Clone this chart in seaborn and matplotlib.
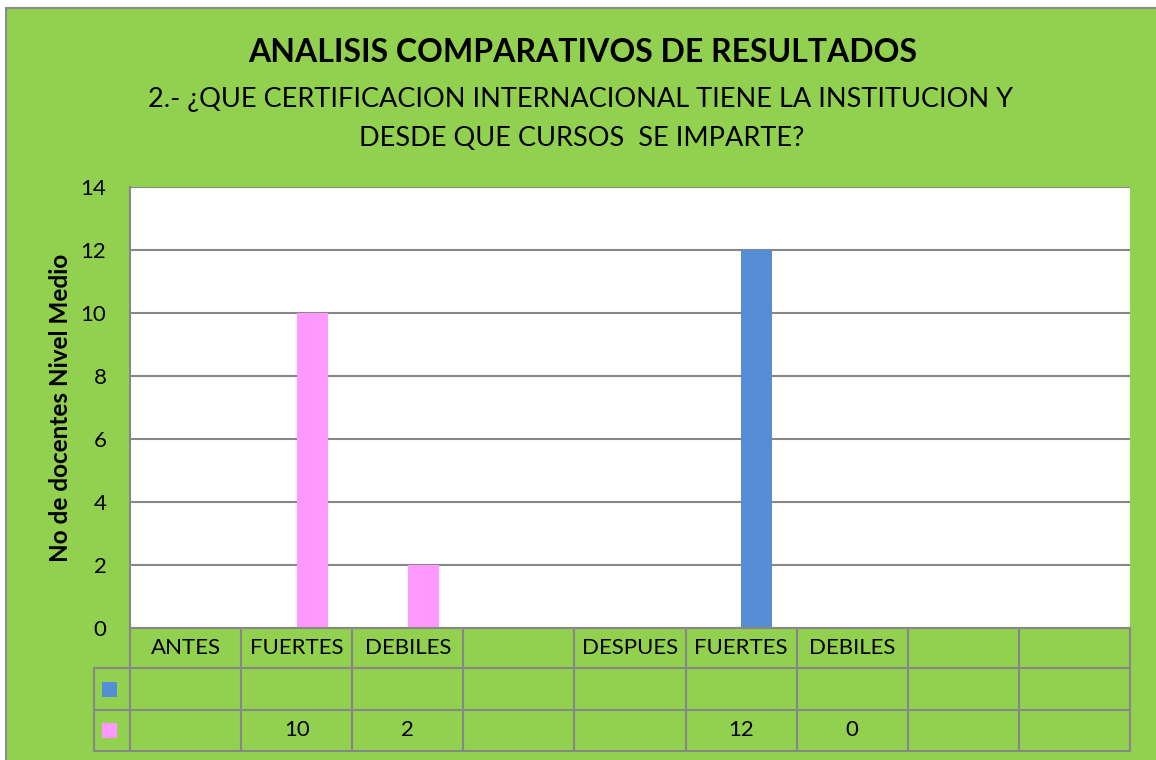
import matplotlib.pyplot as plt
import matplotlib.patches as mpatches
import matplotlib.transforms as mtransforms
import pandas as pd
import seaborn as sns

# datos
categorias = ["ANTES", "FUERTES", "DEBILES", "", "DESPUES", "FUERTES", "DEBILES", "", ""]
serie_azul = [None, None, None, None, None, None, None, None, None]
serie_rosa = [None, 10, 2, None, None, 12, 0, None, None]
tabla_azul = ["", "", "", "", "", "", "", "", ""]
tabla_rosa = ["", "10", "2", "", "", "12", "0", "", ""]
# en el original la barra de DESPUES/FUERTES tiene color propio
punto_azul = 5

AZUL = "#558ED5"
ROSA = "#FF99FF"
VERDE = "#92D050"
GRIS = "#878787"

claves = ["c%d" % i for i in range(len(categorias))]
df = pd.DataFrame({
    "pos": claves * 2,
    "valor": serie_azul + serie_rosa,
    "serie": ["azul"] * len(claves) + ["rosa"] * len(claves),
})
df["valor"] = pd.to_numeric(df["valor"]).fillna(0)

sns.set_style("white")
plt.rcParams["font.family"] = ["Lato", "DejaVu Sans"]
plt.rcParams["text.color"] = "black"
plt.rcParams["ytick.color"] = "black"
plt.rcParams["axes.labelcolor"] = "black"

fig = plt.figure(figsize=(11.56, 7.6), dpi=100)
fig.patch.set_facecolor("white")
W, H = 1156, 760
fondo = mpatches.Rectangle((6 / W, -0.1), 1.2, 1 - 8 / H + 0.1, transform=fig.transFigure,
                           facecolor=VERDE, edgecolor="#8C8C8C", lw=1.5, zorder=-5)
fig.add_artist(fondo)

ax = fig.add_axes([130 / W, 1 - 628 / H, 1000 / W, 441 / H])
ax.set_facecolor("white")
sns.barplot(data=df, x="pos", y="valor", hue="serie", order=claves, hue_order=["azul", "rosa"],
            palette={"azul": AZUL, "rosa": ROSA}, width=0.56, dodge=True, saturation=1,
            linewidth=0, legend=False, ax=ax)
ax.containers[1][punto_azul].set_facecolor(AZUL)

ax.set_xlim(-0.5, len(claves) - 0.5)
ax.set_ylim(0, 14)
ax.set_yticks(range(0, 15, 2))
ax.yaxis.grid(True, color=GRIS, lw=1.5)
ax.set_axisbelow(True)
ax.set_xticks([])
ax.set_xlabel("")
ax.tick_params(axis="y", length=0, pad=17, labelsize=16)
for s in ["top", "right"]:
    ax.spines[s].set_visible(False)
for s in ["left", "bottom"]:
    ax.spines[s].set_color(GRIS)
    ax.spines[s].set_linewidth(1.5)

ax.set_ylabel("No de docentes Nivel Medio", fontsize=17.5, fontweight="bold")
ax.yaxis.label.set_va("center")
ax.yaxis.set_label_coords(-0.069, 0.5)

# titulos
fig.text(583 / W, 1 - 52 / H, "ANALISIS COMPARATIVOS DE RESULTADOS", ha="center", va="center",
         fontsize=23, fontweight="bold")
fig.text(581 / W, 1 - 100 / H, "2.- ¿QUE CERTIFICACION INTERNACIONAL TIENE LA INSTITUCION Y",
         ha="center", va="center", fontsize=19.5)
fig.text(582 / W, 1 - 138 / H, "DESDE QUE CURSOS  SE IMPARTE?", ha="center", va="center", fontsize=19.5)

# tabla de datos
tr = mtransforms.blended_transform_factory(ax.transData, ax.transAxes)
n = len(claves)
filas = [0, -40 / 441, -82 / 441, -123 / 441]
xleg = -0.5 - 36 / 111
lkw = dict(color=GRIS, lw=1.5, transform=tr, clip_on=False)
for i in range(n + 1):
    ax.plot([i - 0.5, i - 0.5], [filas[0], filas[3]], **lkw)
ax.plot([xleg, xleg], [filas[1], filas[3]], **lkw)
for y in filas[1:]:
    ax.plot([xleg, n - 0.5], [y, y], **lkw)


def centro(a, b):
    return (a + b) / 2


for i, cat in enumerate(categorias):
    ax.text(i, centro(filas[0], filas[1]), cat, ha="center", va="center", fontsize=16, transform=tr)
    ax.text(i, centro(filas[1], filas[2]), tabla_azul[i], ha="center", va="center", fontsize=16, transform=tr)
    ax.text(i, centro(filas[2], filas[3]), tabla_rosa[i], ha="center", va="center", fontsize=16, transform=tr)

for (a, b), col in [((filas[1], filas[2]), AZUL), ((filas[2], filas[3]), ROSA)]:
    cy = centro(a, b)
    ax.add_patch(mpatches.Rectangle((xleg + 8 / 111, cy - 7.5 / 441), 15 / 111, 15 / 441,
                                    transform=tr, clip_on=False, facecolor=col, edgecolor="none"))

plt.savefig("out.png", dpi=100, facecolor=fig.get_facecolor())
plt.close()
